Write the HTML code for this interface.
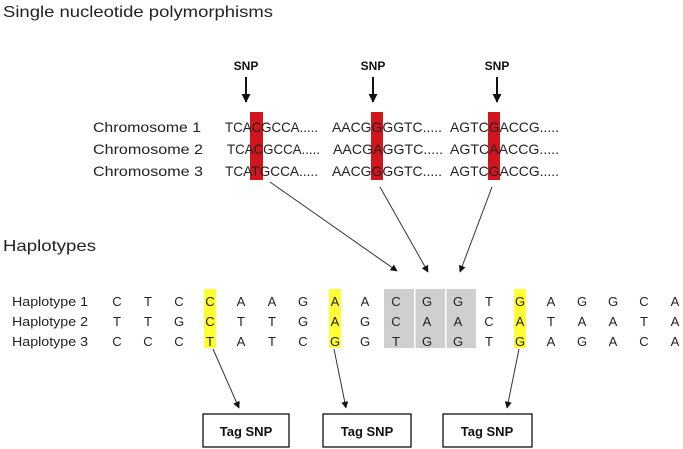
<!DOCTYPE html>
<html><head><meta charset="utf-8"><style>
html,body{margin:0;padding:0;background:#fff;}
svg{display:block;font-family:"Liberation Sans",sans-serif;}
</style></head><body>
<svg width="683" height="449" viewBox="0 0 683 449" xmlns="http://www.w3.org/2000/svg">
<defs>
<marker id="ah" viewBox="0 0 10 10" refX="9" refY="5" markerWidth="7" markerHeight="7" orient="auto-start-reverse" markerUnits="userSpaceOnUse">
<path d="M0,0 L10,5 L0,10 z" fill="#111"/></marker>
<marker id="ah2" viewBox="0 0 10 10" refX="9" refY="5" markerWidth="9" markerHeight="9" orient="auto" markerUnits="userSpaceOnUse">
<path d="M0,0 L10,5 L0,10 z" fill="#111"/></marker>
</defs>
<text x="3" y="17" font-size="16" fill="#222" textLength="270" lengthAdjust="spacingAndGlyphs">Single nucleotide polymorphisms</text>
<g font-size="12" font-weight="bold" text-anchor="middle" fill="#111">
<text x="246" y="70">SNP</text><text x="373" y="70">SNP</text><text x="497" y="70">SNP</text>
</g>
<g stroke="#111" stroke-width="2">
<line x1="246" y1="77" x2="246" y2="102" marker-end="url(#ah2)"/>
<line x1="373" y1="77" x2="373" y2="102" marker-end="url(#ah2)"/>
<line x1="497" y1="77" x2="497" y2="102" marker-end="url(#ah2)"/>
</g>
<g fill="#d0161c">
<rect x="250" y="112" width="13" height="68"/>
<rect x="371" y="112" width="12" height="68"/>
<rect x="488" y="112" width="12" height="68"/>
</g>
<g font-size="14" fill="#222">
<text x="93" y="132" textLength="108" lengthAdjust="spacingAndGlyphs">Chromosome 1</text>
<text x="93" y="154" textLength="110" lengthAdjust="spacingAndGlyphs">Chromosome 2</text>
<text x="93" y="176" textLength="110" lengthAdjust="spacingAndGlyphs">Chromosome 3</text>
<text x="225" y="132" textLength="93" lengthAdjust="spacingAndGlyphs">TCACGCCA.....</text>
<text x="227" y="154" textLength="93" lengthAdjust="spacingAndGlyphs">TCACGCCA.....</text>
<text x="225" y="176" textLength="93" lengthAdjust="spacingAndGlyphs">TCATGCCA.....</text>
<text x="332" y="132" textLength="110" lengthAdjust="spacingAndGlyphs">AACGGGGTC.....</text>
<text x="333" y="154" textLength="110" lengthAdjust="spacingAndGlyphs">AACGAGGTC.....</text>
<text x="332" y="176" textLength="110" lengthAdjust="spacingAndGlyphs">AACGGGGTC.....</text>
<text x="450" y="132" textLength="109" lengthAdjust="spacingAndGlyphs">AGTCGACCG.....</text>
<text x="450" y="154" textLength="109" lengthAdjust="spacingAndGlyphs">AGTCAACCG.....</text>
<text x="450" y="176" textLength="109" lengthAdjust="spacingAndGlyphs">AGTCGACCG.....</text>
</g>
<g stroke="#333" stroke-width="1">
<line x1="270" y1="182" x2="397" y2="271" marker-end="url(#ah)"/>
<line x1="380" y1="187" x2="428" y2="272" marker-end="url(#ah)"/>
<line x1="492" y1="187" x2="460" y2="272" marker-end="url(#ah)"/>
</g>
<text x="3" y="251" font-size="16" fill="#222" textLength="93" lengthAdjust="spacingAndGlyphs">Haplotypes</text>
<g fill="#ffff33">
<rect x="204" y="289" width="12" height="59"/>
<rect x="329" y="289" width="12" height="59"/>
<rect x="514" y="289" width="12" height="59"/>
</g>
<rect x="384" y="289" width="92" height="59" fill="#cfcfcf"/>
<rect x="414" y="289" width="1.5" height="59" fill="#fff"/>
<rect x="445" y="289" width="1.5" height="59" fill="#fff"/>
<g font-size="13" fill="#222">
<text x="12" y="306" textLength="76" lengthAdjust="spacingAndGlyphs">Haplotype 1</text>
<text x="12" y="326" textLength="76" lengthAdjust="spacingAndGlyphs">Haplotype 2</text>
<text x="12" y="346" textLength="76" lengthAdjust="spacingAndGlyphs">Haplotype 3</text>
</g>
<g stroke="#333" stroke-width="1">
<line x1="213" y1="349" x2="239" y2="408" marker-end="url(#ah)"/>
<line x1="334" y1="349" x2="346" y2="408" marker-end="url(#ah)"/>
<line x1="519" y1="349" x2="507" y2="408" marker-end="url(#ah)"/>
</g>
<g fill="#fff" stroke="#111" stroke-width="1.3">
<rect x="203" y="414" width="86" height="33"/>
<rect x="323" y="414" width="88" height="33"/>
<rect x="443" y="414" width="89" height="33"/>
</g>
<g font-size="13" font-weight="bold" fill="#111" text-anchor="middle">
<text x="246" y="436">Tag SNP</text>
<text x="367" y="436">Tag SNP</text>
<text x="487" y="436">Tag SNP</text>
</g>
<g font-size="13" fill="#222" text-anchor="middle">
<text y="306"><tspan x="117">C</tspan><tspan x="148">T</tspan><tspan x="179">C</tspan><tspan x="210">C</tspan><tspan x="241">A</tspan><tspan x="272">A</tspan><tspan x="303">G</tspan><tspan x="335">A</tspan><tspan x="365">A</tspan><tspan x="396">C</tspan><tspan x="427">G</tspan><tspan x="458">G</tspan><tspan x="489">T</tspan><tspan x="520">G</tspan><tspan x="551">A</tspan><tspan x="582">G</tspan><tspan x="613">G</tspan><tspan x="644">C</tspan><tspan x="675">A</tspan></text>
<text y="326"><tspan x="117">T</tspan><tspan x="148">T</tspan><tspan x="179">G</tspan><tspan x="210">C</tspan><tspan x="241">T</tspan><tspan x="272">T</tspan><tspan x="303">G</tspan><tspan x="335">A</tspan><tspan x="365">G</tspan><tspan x="396">C</tspan><tspan x="427">A</tspan><tspan x="458">A</tspan><tspan x="489">C</tspan><tspan x="520">A</tspan><tspan x="551">T</tspan><tspan x="582">A</tspan><tspan x="613">A</tspan><tspan x="644">T</tspan><tspan x="675">A</tspan></text>
<text y="346"><tspan x="117">C</tspan><tspan x="148">C</tspan><tspan x="179">C</tspan><tspan x="210">T</tspan><tspan x="241">A</tspan><tspan x="272">T</tspan><tspan x="303">C</tspan><tspan x="335">G</tspan><tspan x="365">G</tspan><tspan x="396">T</tspan><tspan x="427">G</tspan><tspan x="458">G</tspan><tspan x="489">T</tspan><tspan x="520">G</tspan><tspan x="551">A</tspan><tspan x="582">G</tspan><tspan x="613">A</tspan><tspan x="644">C</tspan><tspan x="675">A</tspan></text>
</g>
</svg>
</body></html>
